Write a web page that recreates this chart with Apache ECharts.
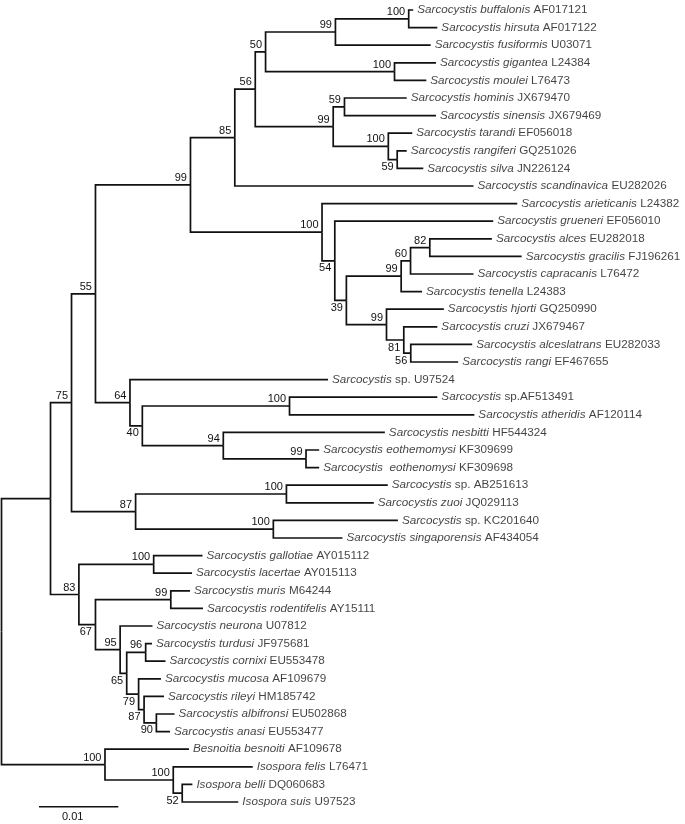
<!DOCTYPE html>
<html><head><meta charset="utf-8">
<script src="https://cdn.jsdelivr.net/npm/echarts@6/dist/echarts.min.js"></script>
<style>html,body{margin:0;padding:0;background:#fff}#c{width:685px;height:824px}</style>
</head><body><div id="c"></div>
<script>
// ---- data ----
const leafNames = ['Sarcocystis buffalonis','Sarcocystis hirsuta','Sarcocystis fusiformis','Sarcocystis gigantea','Sarcocystis moulei','Sarcocystis hominis','Sarcocystis sinensis','Sarcocystis tarandi','Sarcocystis rangiferi','Sarcocystis silva','Sarcocystis scandinavica','Sarcocystis arieticanis','Sarcocystis grueneri','Sarcocystis alces','Sarcocystis gracilis','Sarcocystis capracanis','Sarcocystis tenella','Sarcocystis hjorti','Sarcocystis cruzi','Sarcocystis alceslatrans','Sarcocystis rangi','Sarcocystis','Sarcocystis','Sarcocystis atheridis','Sarcocystis nesbitti','Sarcocystis eothemomysi','Sarcocystis  eothenomysi','Sarcocystis','Sarcocystis zuoi','Sarcocystis','Sarcocystis singaporensis','Sarcocystis gallotiae','Sarcocystis lacertae','Sarcocystis muris','Sarcocystis rodentifelis','Sarcocystis neurona','Sarcocystis turdusi','Sarcocystis cornixi','Sarcocystis mucosa','Sarcocystis rileyi','Sarcocystis albifronsi','Sarcocystis anasi','Besnoitia besnoiti','Isospora felis','Isospora belli','Isospora suis'];
const leafAccessions = ['AF017121','AF017122','U03071','L24384','L76473','JX679470','JX679469','EF056018','GQ251026','JN226124','EU282026','L24382','EF056010','EU282018','FJ196261','L76472','L24383','GQ250990','JX679467','EU282033','EF467655','sp. U97524','sp.AF513491','AF120114','HF544324','KF309699','KF309698','sp. AB251613','JQ029113','sp. KC201640','AF434054','AY015112','AY015113','M64244','AY15111','U07812','JF975681','EU553478','AF109679','HM185742','EU502868','EU553477','AF109678','L76471','DQ060683','U97523'];
// distance from root to tip
const leafDepth = [0.05192,0.05496,0.05412,0.05479,0.05357,0.05110,0.05479,0.05180,0.05110,0.05319,0.05952,0.06504,0.06201,0.06184,0.06559,0.05952,0.05303,0.05578,0.05496,0.05936,0.05759,0.04117,0.05496,0.05963,0.04834,0.04006,0.04006,0.04871,0.04695,0.04999,0.04299,0.02535,0.02402,0.02377,0.02541,0.01904,0.01898,0.02068,0.02011,0.02049,0.02182,0.02125,0.02364,0.03168,0.02407,0.02986];
const leafParent = [9,9,8,10,10,12,12,13,14,14,5,15,16,20,20,19,18,21,22,23,23,24,26,26,27,28,28,30,30,31,31,33,33,35,35,36,38,38,39,40,41,41,42,43,44,44];
// internal nodes
const nodeParent = [-1,0,1,2,3,4,5,6,7,8,7,6,11,11,13,4,15,16,17,18,19,17,21,22,3,24,25,25,27,2,29,29,1,32,32,34,34,36,37,37,39,40,0,42,43];
const nodeDepth = [0,0.00618,0.00883,0.01185,0.02383,0.02942,0.03200,0.03330,0.04211,0.05135,0.04956,0.04183,0.04325,0.04878,0.04990,0.04042,0.04203,0.04349,0.05040,0.05158,0.05401,0.04855,0.05073,0.05161,0.01620,0.01776,0.03632,0.02797,0.03840,0.01691,0.03593,0.03428,0.00976,0.01919,0.01185,0.02135,0.01496,0.01579,0.01818,0.01729,0.01798,0.01953,0.01305,0.02166,0.02279];
const nodeSupport = ['','','75','55','99','85','56','50','99','100','100','99','59','100','59','100','54','39','99','60','82','99','81','56','64','40','100','94','99','87','100','100','83','100','67','99','95','65','96','79','87','90','100','100','52'];
const scaleBarLength = 0.01;
// ---- layout (label placement: a = above-left, b = below-left, m = left) ----
const supportPlacement = ['a','a','a','a','a','a','a','a','a','a','a','a','a','a','b','a','b','b','a','a','a','a','b','b','a','b','a','a','a','a','a','a','a','a','b','a','a','b','a','b','b','b','a','a','b'];
const scaleBarStart = 0.00473, scaleBarRow = 45.27;

// ---- tree geometry ----
const nNodes = nodeParent.length;
const children = Array.from({length: nNodes}, () => []);
leafParent.forEach((p, i) => children[p].push({leaf: true, i}));
nodeParent.forEach((p, i) => { if (p >= 0) children[p].push({leaf: false, i}); });
const nodeY = new Array(nNodes);
function calcY(n) {
  if (nodeY[n] !== undefined) return nodeY[n];
  const ys = children[n].map(c => c.leaf ? c.i : calcY(c.i));
  nodeY[n] = (Math.min(...ys) + Math.max(...ys)) / 2;
  return nodeY[n];
}
calcY(0);
const edges = [];
leafParent.forEach((p, i) => edges.push([nodeDepth[p], nodeY[p], leafDepth[i], i]));
nodeParent.forEach((p, i) => { if (p >= 0) edges.push([nodeDepth[p], nodeY[p], nodeDepth[i], nodeY[i]]); });
const supportNodes = [];
nodeSupport.forEach((s, k) => { if (s) supportNodes.push(k); });

const FONT = '"Liberation Sans", Arial, Helvetica, sans-serif';
const INK = '#111';
const chart = echarts.init(document.getElementById('c'), null, {renderer: 'canvas'});
chart.setOption({
  animation: false,
  backgroundColor: '#fff',
  grid: {left: 1.5, top: 10, width: 634.4, height: 792},
  xAxis: {type: 'value', min: 0, max: 0.08, show: false},
  yAxis: {type: 'value', min: 0, max: 45, inverse: true, show: false},
  series: [
    {
      type: 'custom', name: 'branches', silent: true, clip: false,
      encode: {x: [0, 2], y: [1, 3]},
      data: edges,
      renderItem: (params, api) => {
        const a = api.coord([api.value(0), api.value(1)]);
        const b = api.coord([api.value(0), api.value(3)]);
        const c = api.coord([api.value(2), api.value(3)]);
        return {type: 'polyline', shape: {points: [a, b, c]},
          style: {stroke: INK, lineWidth: 1.7, fill: null}};
      }
    },
    {
      type: 'scatter', name: 'taxa', silent: true,
      data: leafDepth.map((d, i) => [d, i]),
      symbolSize: 1, itemStyle: {color: 'rgba(0,0,0,0)'},
      label: {
        show: true, position: 'right', distance: 3.5,
        formatter: p => '{i|' + leafNames[p.dataIndex] + '} {n|' + leafAccessions[p.dataIndex] + '}',
        rich: {
          i: {fontStyle: 'italic', fontFamily: FONT, fontSize: 11.7, color: INK},
          n: {fontFamily: FONT, fontSize: 11.7, color: INK}
        }
      }
    },
    {
      type: 'custom', name: 'support', silent: true, clip: false,
      data: supportNodes.map(k => [nodeDepth[k], nodeY[k]]),
      renderItem: (params, api) => {
        const k = supportNodes[params.dataIndex];
        const p = api.coord([api.value(0), api.value(1)]);
        const pl = supportPlacement[k];
        return {type: 'text', x: p[0] - 3.5,
          y: pl === 'a' ? p[1] - 1.5 : pl === 'b' ? p[1] + 2 : p[1] - 1,
          style: {text: nodeSupport[k], align: 'right',
            verticalAlign: pl === 'a' ? 'bottom' : pl === 'b' ? 'top' : 'middle',
            fill: INK, font: '11px ' + FONT}};
      }
    },
    {
      type: 'custom', name: 'scale', silent: true, clip: false,
      data: [[scaleBarStart, scaleBarRow]],
      renderItem: (params, api) => {
        const a = api.coord([api.value(0), api.value(1)]);
        const b = api.coord([api.value(0) + scaleBarLength, api.value(1)]);
        return {type: 'group', children: [
          {type: 'line', shape: {x1: a[0], y1: a[1], x2: b[0], y2: b[1]}, style: {stroke: INK, lineWidth: 1.7}},
          {type: 'text', x: (a[0] + b[0]) / 2 - 6, y: a[1] + 10,
            style: {text: String(scaleBarLength), align: 'center', verticalAlign: 'middle', fill: INK, font: '11px ' + FONT}}
        ]};
      }
    }
  ]
});
</script>
</body></html>
